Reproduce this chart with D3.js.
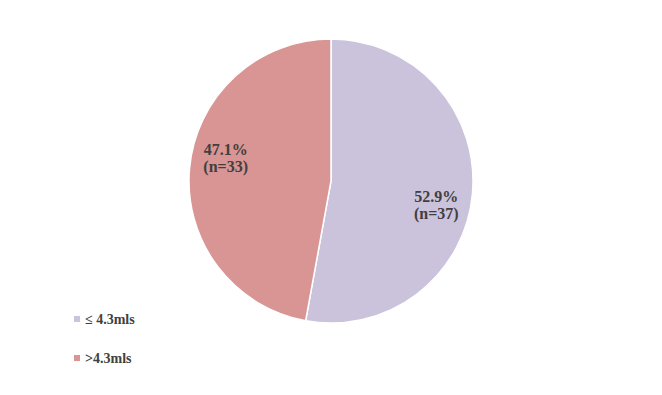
<!DOCTYPE html>
<html>
<head>
<meta charset="utf-8">
<script src="https://cdn.jsdelivr.net/npm/d3@7"></script>
<style>
  body { margin: 0; background: #fff; }
  text { font-family: "Times New Roman", "Liberation Serif", serif; font-weight: bold; fill: #404040; }
</style>
</head>
<body>
<div id="chart"></div>
<script>
// data
var categories = ["\u2264 4.3mls", ">4.3mls"];
var counts = [37, 33];
var percents = ["52.9%", "47.1%"];
var colors = ["#cbc2dc", "#d99594"];

var svgWidth = 662, svgHeight = 395;
var cx = 331, cy = 181, radius = 142;

var svg = d3.select("#chart").append("svg")
  .attr("width", svgWidth)
  .attr("height", svgHeight);

var pieGroup = svg.append("g")
  .attr("transform", `translate(${cx}, ${cy})`);

var pie = d3.pie().sort(null).value(d => d);
var arcs = pie(counts);
var arc = d3.arc().innerRadius(0).outerRadius(radius);

pieGroup.selectAll("path")
  .data(arcs)
  .enter()
  .append("path")
  .attr("d", arc)
  .attr("fill", (d, i) => colors[i])
  .attr("stroke", "#fff")
  .attr("stroke-width", 1.5);

// slice labels, nudged a bit clockwise like the original
var labelR = radius * 0.76;
var nudge = 7.5 * Math.PI / 180;
var labels = pieGroup.selectAll(".lbl")
  .data(arcs)
  .enter()
  .append("text")
  .attr("class", "lbl")
  .attr("text-anchor", "middle")
  .attr("font-size", "16px")
  .attr("transform", d => {
    var a = (d.startAngle + d.endAngle) / 2 + nudge;
    return `translate(${labelR * Math.sin(a)}, ${-labelR * Math.cos(a)})`;
  });
labels.append("tspan").attr("x", 0).attr("dy", "-0.15em").text((d, i) => percents[i]);
labels.append("tspan").attr("x", 0).attr("dy", "1.05em").text((d, i) => "(n=" + counts[i] + ")");

// legend
var legend = svg.append("g").attr("transform", "translate(74, 319)");
var items = legend.selectAll("g")
  .data(categories)
  .enter()
  .append("g")
  .attr("transform", (d, i) => `translate(0, ${i * 39})`);
items.append("rect")
  .attr("x", 0).attr("y", -3)
  .attr("width", 6).attr("height", 6)
  .attr("fill", (d, i) => colors[i]);
items.append("text")
  .attr("x", 11).attr("y", 5)
  .attr("font-size", "14px")
  .text(d => d);
</script>
</body>
</html>
